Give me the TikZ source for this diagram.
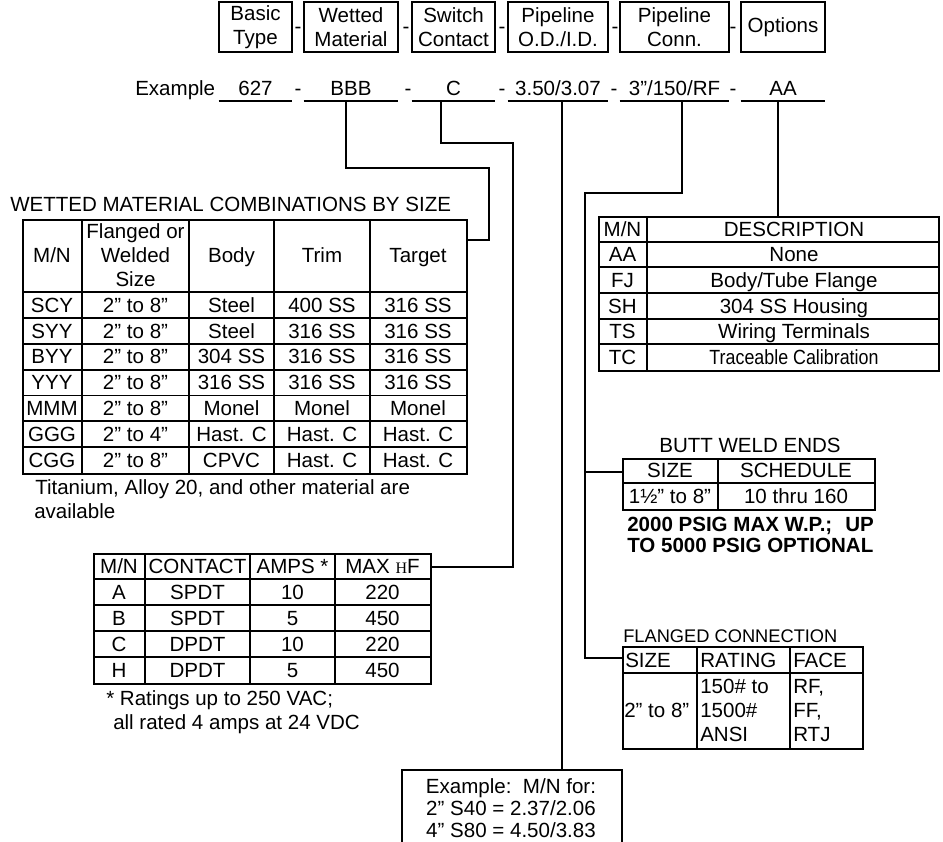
\documentclass[tikz,border=0pt]{standalone}
\usepackage{fontspec}
\setmainfont{Liberation Sans}
\newfontfamily\symfont{Liberation Serif}
\usetikzlibrary{positioning}
\definecolor{ink}{HTML}{000000}

\begin{document}
\begin{tikzpicture}[x=.75pt,y=-.75pt,
    every node/.style={ink,inner sep=0pt,font=\fontsize{15.4}{18}\selectfont},
    hdrbox/.style={draw,line width=1.4pt,minimum height=37.5pt,align=center},
    field/.style={anchor=base,text depth=3.75pt},
    tabframe/.style={draw,line width=1.4pt,anchor=north west},
    cell/.style={text height=11pt,text depth=0pt},
    gridline/.style={ink,line width=1.4pt},
    wire/.style={ink,line width=1pt}]
  \useasboundingbox (0,0) rectangle (943,842);
  \clip (0,0) rectangle (943,842);

  \foreach \i/\xa/\xb/\htxt/\ftxt in {1/219/292/{Basic\\Type}/627,
      2/304/398/{Wetted\\Material}/BBB,
      3/412/495/{Switch\\Contact}/C,
      4/508/608/{Pipeline\\O.D./I.D.}/{3.50/3.07},
      5/620/729/{Pipeline\\Conn.}/{3”/150/RF},
      6/741/825/{Options}/AA}{
    \pgfmathsetmacro\bw{(\xb-\xa)*.75}
    \node[hdrbox,minimum width=\bw pt] (h\i) at ({(\xa+\xb)/2},27) {\htxt};
    \node[field,minimum width=\bw pt] (f\i) at ({(\xa+\xb)/2},96) {\ftxt};
    \draw[gridline] (f\i.south west) -- (f\i.south east);
  }
  \foreach \x in {298,406,502,615,733}
    \node (dh\x) at (\x,30) {-};
  \foreach \x in {298,408,502,614,733}
    \node[anchor=base] (df\x) at (\x,96) {-};
  \node[anchor=base west] (ex) at (135,96) {Example};

  % wetted material
  \node[anchor=base west] (wtitle) at (10,211) {WETTED MATERIAL COMBINATIONS BY SIZE};
  \node[tabframe,minimum width=333pt,minimum height=190.5pt] (wtab) at (22,219) {};
  \foreach \x in {82,189,274,370} \draw[gridline] (\x,219) -- (\x,473);
  \foreach \k in {0,...,6} \draw[gridline] (22,{292+25.86*\k}) -- (466,{292+25.86*\k});
  \foreach \x/\t [count=\j] in {52/{M/N},231.5/Body,322/Trim,418/Target}
    \node[cell] (wh\j) at (\x,255.5) {\t};
  \node[align=center] (whsize) at (135.5,255.5) {Flanged or\\Welded\\Size};
  \foreach \mn/\sz/\bd/\tr/\tg [count=\k] in {SCY/2” to 8”/Steel/400 SS/316 SS,
      SYY/2” to 8”/Steel/316 SS/316 SS,
      BYY/2” to 8”/304 SS/316 SS/316 SS,
      YYY/2” to 8”/316 SS/316 SS/316 SS,
      MMM/2” to 8”/Monel/Monel/Monel,
      GGG/2” to 4”/Hast. C/Hast. C/Hast. C,
      CGG/2” to 8”/CPVC/Hast. C/Hast. C}{
    \pgfmathsetmacro\yc{292+25.86*(\k-.5)}
    \foreach \x/\t [count=\j] in {52/\mn,135.5/\sz,231.5/\bd,322/\tr,418/\tg}
      \node[cell] (w\k-\j) at (\x,\yc) {\t};
  }
  \node[anchor=base west] (wnote1) at (35,494) {Titanium, Alloy 20, and other material are};
  \node[anchor=base west] (wnote2) at (34,518) {available};

  % switch contact
  \node[tabframe,minimum width=252.75pt,minimum height=97.5pt] (ctab) at (93,553) {};
  \foreach \x in {145,250,335} \draw[gridline] (\x,553) -- (\x,683);
  \foreach \y in {579,605,631,657} \draw[gridline] (93,\y) -- (430,\y);
  \foreach \mn/\ct/\am/\mx [count=\k] in {{M/N}/CONTACT/AMPS */{MAX {\symfont\fontsize{12}{14}\selectfont H}F},
      A/SPDT/10/220, B/SPDT/5/450, C/DPDT/10/220, H/DPDT/5/450}{
    \pgfmathsetmacro\yc{553+26*(\k-.5)}
    \foreach \x/\t [count=\j] in {119/\mn,197.5/\ct,292.5/\am,382.5/\mx}
      \node[cell] (c\k-\j) at (\x,\yc) {\t};
  }
  \node[anchor=base west] (cnote1) at (106,705) {* Ratings up to 250 VAC;};
  \node[anchor=base west] (cnote2) at (113,729) {all rated 4 amps at 24 VDC};

  % options
  \node[tabframe,minimum width=255pt,minimum height=115.5pt] (dtab) at (598,216) {};
  \draw[gridline] (647,216) -- (647,370);
  \foreach \k in {1,...,5} \draw[gridline] (598,{216+25.67*\k}) -- (938,{216+25.67*\k});
  \foreach \mn/\ds [count=\k] in {{M/N}/DESCRIPTION, AA/None, FJ/{Body/Tube Flange},
      SH/304 SS Housing, TS/Wiring Terminals, TC/{\scalebox{.87}[1]{Traceable Calibration}}}{
    \pgfmathsetmacro\yc{216+25.67*(\k-.5)}
    \node[cell] (d\k-1) at (622.5,\yc) {\mn};
    \node[cell] (d\k-2) at (794,\yc) {\ds};
  }

  % butt weld
  \node[anchor=base] (btitle) at (750,452) {BUTT WELD ENDS};
  \node[tabframe,minimum width=189pt,minimum height=38.25pt] (btab) at (622,458) {};
  \draw[gridline] (718,458) -- (718,509);
  \draw[gridline] (622,483) -- (874,483);
  \node[cell] (b1-1) at (670,470.5) {SIZE};
  \node[cell] (b1-2) at (796,470.5) {SCHEDULE};
  \node[cell] (b2-1) at (670,496) {1½” to 8”};
  \node[cell] (b2-2) at (796,496) {10 thru 160};
  \node[anchor=base west,font=\fontsize{15.4}{18}\selectfont\bfseries] (bnote1) at (627,531)
    {\makebox[185pt][l]{2000 PSIG MAX W.P.;\hfill UP}};
  \node[anchor=base west,font=\fontsize{15.4}{18}\selectfont\bfseries] (bnote2) at (627,552)
    {TO 5000 PSIG OPTIONAL};

  % flanged
  \node[anchor=base west,font=\fontsize{13.7}{16}\selectfont] (ftitle) at (623,642) {FLANGED CONNECTION};
  \node[tabframe,minimum width=180pt,minimum height=76.5pt] (ftab) at (622,646) {};
  \foreach \x in {697,790} \draw[gridline] (\x,646) -- (\x,748);
  \draw[gridline] (622,673) -- (862,673);
  \foreach \x/\t [count=\j] in {625/SIZE,700/RATING,793/FACE}
    \node[anchor=base west] (fh\j) at (\x,667) {\t};
  \node[anchor=base west] (fsz) at (624,717) {2” to 8”};
  \foreach \y/\ra/\fa [count=\k] in {693/150\# to/{RF,}, 717/1500\#/{FF,}, 741/ANSI/RTJ}{
    \node[anchor=base west] (fr\k) at (700,\y) {\ra};
    \node[anchor=base west] (ff\k) at (793,\y) {\fa};
  }

  % example box
  \node[tabframe,minimum width=165pt,minimum height=75pt] (exbox) at (401,769) {};
  \node[anchor=base] (ex1) at (511,793) {Example:\ \ M/N for:};
  \node[anchor=base] (ex2) at (511,815) {2” S40 = 2.37/2.06};
  \node[anchor=base] (ex3) at (511,837) {4” S80 = 4.50/3.83};

  % leaders
  \coordinate (jn) at (585,472);
  \draw[wire] (346,0 |- f2.south) |- (489,168) |- (wtab.east |- 0,240);
  \draw[wire] (441,0 |- f3.south) |- (513,143) |- (ctab.east |- 0,567);
  \draw[wire] (562,0 |- f4.south) -- (562,0 |- exbox.north);
  \draw[wire] (682,0 |- f5.south) |- (585,193) |- (ftab.west |- 0,658);
  \draw[wire] (jn) -- (btab.west |- jn);
  \draw[wire] (778,0 |- f6.south) -- (778,0 |- dtab.north);
\end{tikzpicture}
\end{document}
